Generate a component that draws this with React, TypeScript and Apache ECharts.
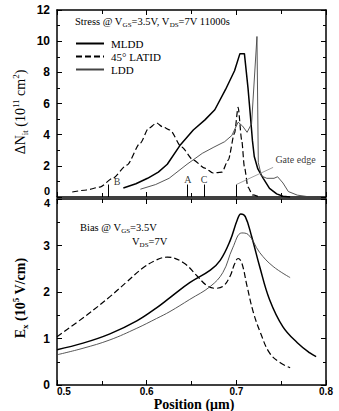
import React, { useEffect, useRef } from "react";
import * as echarts from "echarts";

// ---- Stress panel: interface-state density ΔNit (10^11 cm^-2) vs position (µm)
const mlddStressX = [0.574, 0.588, 0.601, 0.613, 0.623, 0.637, 0.652, 0.665, 0.676, 0.688, 0.698, 0.704, 0.709, 0.713, 0.716, 0.718, 0.72, 0.724, 0.73, 0.737, 0.745, 0.752, 0.76];
const mlddStressY = [0.58, 0.85, 1.2, 1.6, 2.1, 3.3, 4.3, 4.95, 5.6, 6.9, 8.1, 9.2, 9.2, 7.0, 5.0, 3.6, 2.6, 1.8, 1.2, 0.55, 0.2, 0.05, 0];

const latidStressX = [0.517, 0.533, 0.548, 0.562, 0.578, 0.593, 0.602, 0.611, 0.618, 0.626, 0.639, 0.652, 0.665, 0.674, 0.684, 0.691, 0.698, 0.702, 0.706, 0.709, 0.713, 0.718, 0.726];
const latidStressY = [0.32, 0.45, 0.64, 1.2, 2.05, 3.47, 4.4, 4.75, 4.5, 4.3, 3.2, 2.37, 1.85, 1.54, 1.6, 2.37, 4.1, 5.75, 3.66, 1.93, 0.64, 0.13, 0];

const lddStressX = [0.593, 0.61, 0.625, 0.645, 0.662, 0.675, 0.687, 0.695, 0.702, 0.707, 0.712, 0.717, 0.723, 0.7245, 0.728, 0.734, 0.742, 0.746, 0.752, 0.758, 0.768, 0.78, 0.79];
const lddStressY = [0.5, 0.8, 1.2, 2.1, 2.8, 3.2, 3.55, 3.95, 4.8, 4.55, 4.15, 4.7, 10.3, 2.2, 1.35, 1.2, 1.2, 1.3, 0.9, 0.35, 0.12, 0.02, 0];

// Position markers along the channel
const markerNames = ["B", "A", "C"];
const markerPos = [0.557, 0.645, 0.664];
const markerLabelPos = [0.567, 0.646, 0.664];
const gateEdgePos = 0.7;

// ---- Bias panel: lateral field Ex (10^5 V/cm) vs position (µm)
const latidFieldX = [0.5, 0.533, 0.559, 0.578, 0.596, 0.611, 0.623, 0.641, 0.656, 0.667, 0.676, 0.685, 0.693, 0.698, 0.702, 0.706, 0.712, 0.719, 0.727, 0.737, 0.749, 0.76];
const latidFieldY = [1.04, 1.5, 1.9, 2.22, 2.52, 2.69, 2.75, 2.63, 2.35, 2.14, 2.08, 2.12, 2.34, 2.6, 2.72, 2.63, 2.12, 1.56, 1.12, 0.69, 0.48, 0.37];

const mlddFieldX = [0.5, 0.529, 0.559, 0.589, 0.611, 0.626, 0.648, 0.671, 0.682, 0.693, 0.701, 0.705, 0.71, 0.717, 0.726, 0.737, 0.752, 0.768, 0.782, 0.789];
const mlddFieldY = [0.76, 0.9, 1.1, 1.38, 1.66, 1.88, 2.2, 2.47, 2.68, 3.1, 3.55, 3.68, 3.62, 3.2, 2.55, 1.84, 1.25, 0.91, 0.69, 0.61];

const lddFieldX = [0.5, 0.529, 0.559, 0.589, 0.611, 0.626, 0.648, 0.671, 0.685, 0.696, 0.706, 0.713, 0.726, 0.741, 0.76];
const lddFieldY = [0.65, 0.79, 0.97, 1.22, 1.43, 1.58, 1.84, 2.12, 2.42, 2.95, 3.27, 3.24, 2.85, 2.55, 2.31];

const SERIF = "Liberation Serif";
const SANS = "Liberation Sans";

const zip = (xs: number[], ys: number[]) => xs.map((x, i) => [x, ys[i]]);

const mlddStyle = { color: "#000", width: 1.5, type: "solid" as const };
const latidStyle = { color: "#000", width: 1.2, type: [6, 3] as any };
const lddStyle = { color: "#444", width: 0.9, type: "solid" as const };

function xAxisFor(gridIndex: number, position: "top" | "bottom", showLabel: boolean) {
  return {
    type: "value",
    gridIndex,
    position,
    min: 0.5,
    max: 0.8,
    interval: 0.1,
    axisLine: { show: true, onZero: false, lineStyle: { color: "#000", width: 1.5 } },
    axisTick: { show: true, inside: true, length: 5, lineStyle: { color: "#000", width: 1 } },
    minorTick: { show: true, splitNumber: 2, length: 4, lineStyle: { color: "#000", width: 1 } },
    splitLine: { show: false },
    axisLabel: {
      show: showLabel,
      color: "#000",
      fontFamily: SANS,
      fontWeight: "bold",
      fontSize: 10,
      margin: 1,
      alignMinLabel: "left",
      formatter: (v: number) => v.toFixed(1),
    },
  };
}

function yAxisFor(
  gridIndex: number,
  position: "left" | "right",
  max: number,
  interval: number,
  showLabel: boolean,
  rich?: { value: number; pad: number[] }
) {
  return {
    type: "value",
    gridIndex,
    position,
    min: 0,
    max,
    interval,
    axisLine: { show: true, onZero: false, lineStyle: { color: "#000", width: 1.5 } },
    axisTick: { show: true, inside: true, length: 5, lineStyle: { color: "#000", width: 1 } },
    minorTick: { show: true, splitNumber: 2, length: 3, lineStyle: { color: "#000", width: 1 } },
    splitLine: { show: false },
    axisLabel: {
      show: showLabel,
      color: "#000",
      fontFamily: SANS,
      fontWeight: "bold",
      fontSize: 12,
      margin: 7,
      formatter: (v: number) => (rich && v === rich.value ? `{s|${v}}` : `${v}`),
      rich: rich
        ? { s: { fontFamily: SANS, fontWeight: "bold", fontSize: 11, color: "#000", padding: rich.pad } }
        : undefined,
    },
  };
}

const sub = (size: number) => ({ fontFamily: SERIF, fontSize: size, verticalAlign: "bottom", lineHeight: 8, color: "#000" });
const sup = (size: number) => ({ fontFamily: SERIF, fontSize: size, verticalAlign: "top", lineHeight: 8, color: "#000" });

export default function App() {
  const ref = useRef<HTMLDivElement>(null);

  useEffect(() => {
    if (!ref.current) return;
    const chart = echarts.init(ref.current, undefined, { renderer: "svg" });

    const stressLine = (name: string, xs: number[], ys: number[], ls: any) => ({
      name,
      type: "line",
      xAxisIndex: 0,
      yAxisIndex: 0,
      data: zip(xs, ys),
      symbol: "none",
      lineStyle: ls,
      itemStyle: { color: "#000" },
      z: 3,
    });
    const fieldLine = (name: string, xs: number[], ys: number[], ls: any) => ({
      name,
      type: "line",
      xAxisIndex: 2,
      yAxisIndex: 2,
      data: zip(xs, ys),
      symbol: "none",
      smooth: 0.4,
      lineStyle: ls,
      itemStyle: { color: "#000" },
      z: 3,
    });

    const tickLines = markerPos.map((p) => [
      { coord: [p, 0] },
      { coord: [p, 0.8] },
    ]);

    const option: any = {
      animation: false,
      backgroundColor: "#fff",
      grid: [
        { left: 57, right: 13, top: 10, height: 187 },
        { left: 57, right: 13, top: 199, height: 186 },
      ],
      xAxis: [
        xAxisFor(0, "bottom", false),
        xAxisFor(0, "top", false),
        xAxisFor(1, "bottom", true),
        xAxisFor(1, "top", false),
      ],
      yAxis: [
        yAxisFor(0, "left", 12, 2, true, { value: 0, pad: [0, 0, 12, 0] }),
        yAxisFor(0, "right", 12, 2, false),
        yAxisFor(1, "left", 4, 1, true, { value: 4, pad: [8, 0, 0, 0] }),
        yAxisFor(1, "right", 4, 1, false),
      ],
      legend: {
        left: 70,
        top: 33,
        orient: "vertical",
        itemWidth: 28,
        itemHeight: 10,
        itemGap: 2,
        itemStyle: { opacity: 0 },
        data: ["MLDD", "45° LATID", "LDD"],
        textStyle: { fontFamily: SERIF, fontSize: 11, color: "#000", padding: [0, 0, 0, 2] },
      },
      series: [
        stressLine("MLDD", mlddStressX, mlddStressY, mlddStyle),
        { ...stressLine("45° LATID", latidStressX, latidStressY, latidStyle), smooth: 0.25, smoothMonotone: "x" },
        stressLine("LDD", lddStressX, lddStressY, lddStyle),
        fieldLine("MLDD", mlddFieldX, mlddFieldY, mlddStyle),
        fieldLine("45° LATID", latidFieldX, latidFieldY, latidStyle),
        fieldLine("LDD", lddFieldX, lddFieldY, lddStyle),
        {
          name: "markers",
          type: "scatter",
          xAxisIndex: 0,
          yAxisIndex: 0,
          symbolSize: 0,
          silent: true,
          data: [
            ...markerNames.map((n, i) => ({ value: [markerLabelPos[i], i === 0 ? 0.98 : 1.15], name: n })),
            { value: [0.766, 2.4], name: "Gate edge" },
          ],
          label: {
            show: true,
            position: "inside",
            formatter: (p: any) => p.name,
            fontFamily: SERIF,
            fontSize: 10,
            color: "#000",
          },
          markLine: {
            silent: true,
            symbol: ["none", "none"],
            label: { show: false },
            lineStyle: { color: "#000", width: 1, type: "solid" },
            data: [
              ...tickLines,
              [{ coord: [gateEdgePos, 0] }, { coord: [gateEdgePos, 0.8] }],
              [
                { coord: [gateEdgePos, 0.8], lineStyle: { color: "#888", width: 0.8 } },
                { coord: [0.741, 1.9] },
              ],
            ],
          },
        },
      ],
      graphic: [
        {
          type: "text",
          left: 75,
          top: 16,
          style: {
            text: "{a|Stress @ V}{s|GS}{a|=3.5V, V}{s|DS}{a|=7V 11000s}",
            rich: {
              a: { fontFamily: SERIF, fontSize: 10.5, lineHeight: 14, color: "#000" },
              s: sub(7),
            },
          },
        },
        {
          type: "text",
          left: 80,
          top: 222,
          style: {
            text: "{a|Bias @ V}{s|GS}{a|=3.5V}",
            rich: {
              a: { fontFamily: SERIF, fontSize: 10.5, lineHeight: 14, color: "#000" },
              s: sub(7),
            },
          },
        },
        {
          type: "text",
          left: 132,
          top: 236,
          style: {
            text: "{a|V}{s|DS}{a|=7V}",
            rich: {
              a: { fontFamily: SERIF, fontSize: 10.5, lineHeight: 14, color: "#000" },
              s: sub(7),
            },
          },
        },
        {
          type: "text",
          x: 20,
          y: 112,
          rotation: Math.PI / 2,
          style: {
            text: "{a|ΔN}{s|it}{a| (10}{p|11}{a| cm}{p|2}{a|)}",
            align: "center",
            verticalAlign: "middle",
            rich: {
              a: { fontFamily: SERIF, fontSize: 14, lineHeight: 18, color: "#000" },
              s: sub(9),
              p: sup(9),
            },
          },
        },
        {
          type: "text",
          x: 20,
          y: 298,
          rotation: Math.PI / 2,
          style: {
            text: "{a|E}{s|x}{a| (10}{p|5}{a| V/cm)}",
            align: "center",
            verticalAlign: "middle",
            rich: {
              a: { fontFamily: SERIF, fontWeight: "bold", fontSize: 14, lineHeight: 18, color: "#000" },
              s: { ...sub(9), fontWeight: "bold" },
              p: { ...sup(9), fontWeight: "bold" },
            },
          },
        },
        {
          type: "text",
          x: 194,
          y: 404,
          style: {
            text: "Position (μm)",
            align: "center",
            verticalAlign: "middle",
            fontFamily: SERIF,
            fontWeight: "bold",
            fontSize: 14,
            fill: "#000",
          },
        },
      ],
    };

    chart.setOption(option);
    return () => chart.dispose();
  }, []);

  return (
    <div
      ref={ref}
      style={{ position: "fixed", left: 0, top: 0, width: 339, height: 411, background: "#fff" }}
    />
  );
}
